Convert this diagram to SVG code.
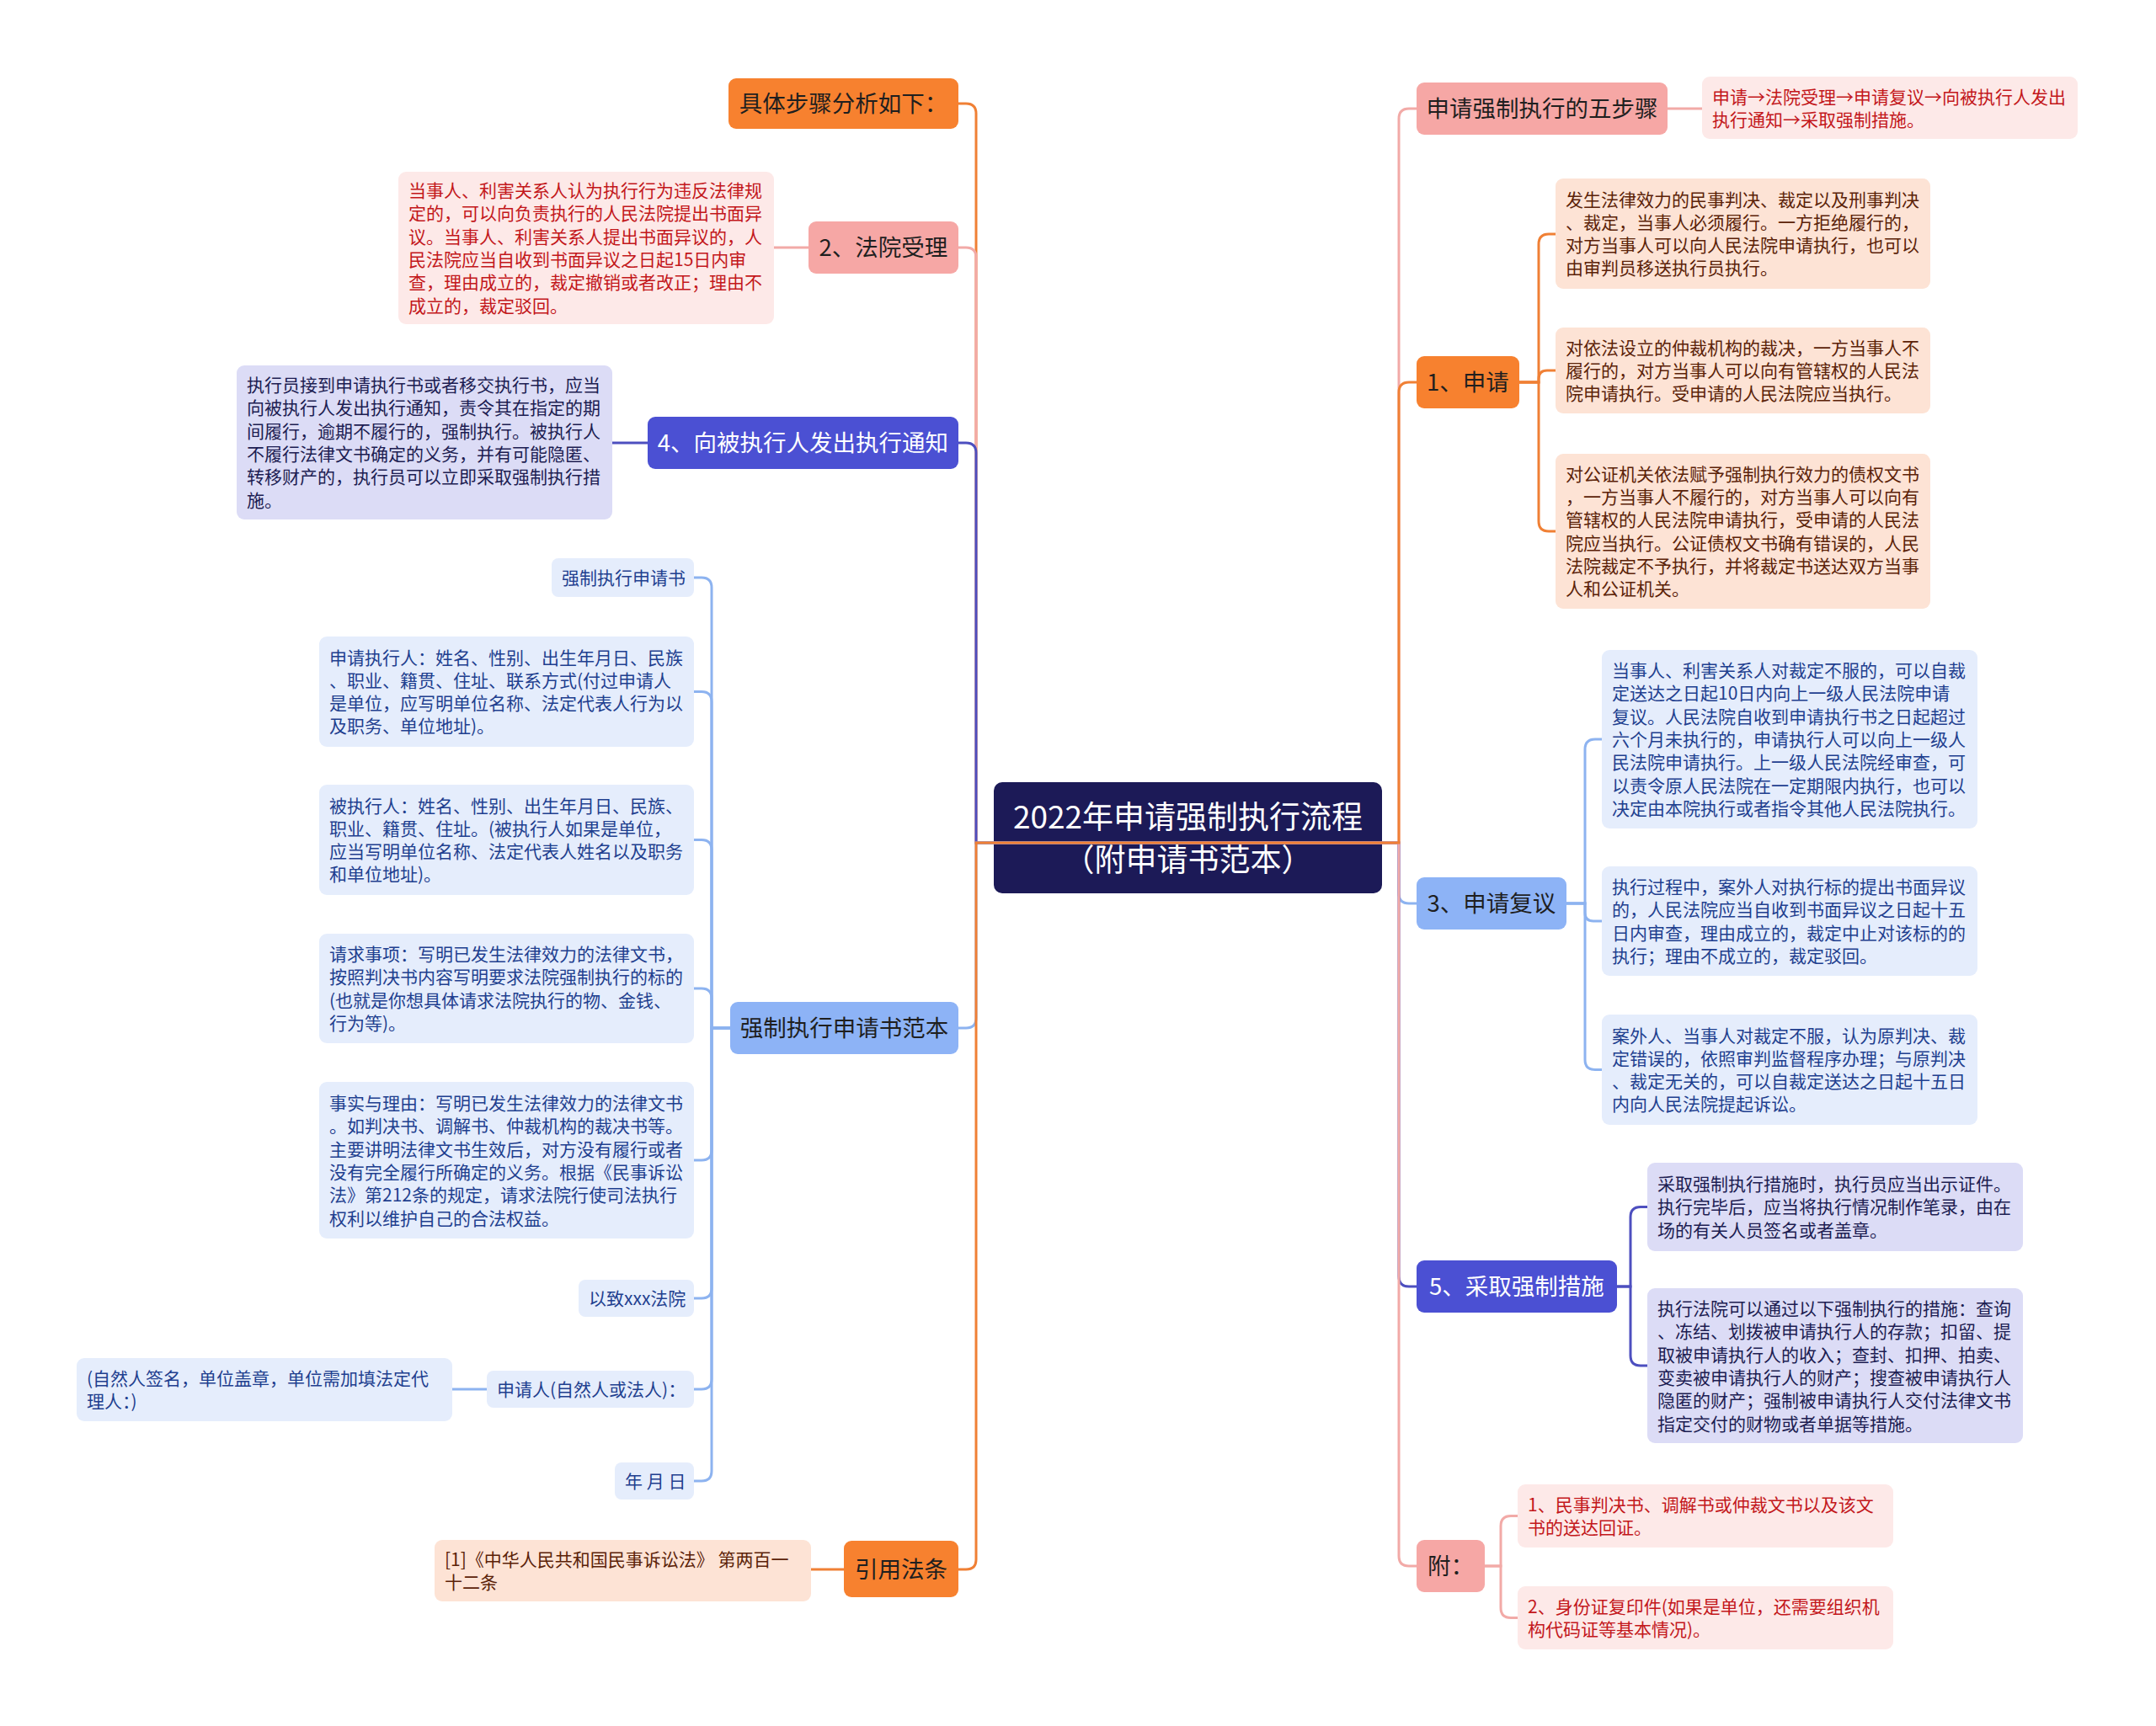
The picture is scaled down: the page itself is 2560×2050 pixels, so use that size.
<svg xmlns="http://www.w3.org/2000/svg" width="2560" height="2050" viewBox="0 0 2560 2050">
<style>
text{font-family:"Noto Sans CJK SC","Noto Sans",sans-serif}
.nt{font-size:27.5px;text-anchor:middle;fill:#1f1f1f}
.nw{font-size:27.5px;text-anchor:middle;fill:#ffffff}
.dt{font-size:21px}
.tr{fill:#c3171b}.tb{fill:#5b2208}.tl{fill:#1d1d52}.tu{fill:#1f3f8f}
.org{fill:#f7812f}.pnk{fill:#f6a7a5}.ind{fill:#4b50d3}.lbl{fill:#8db3f6}
.dpk{fill:#fde9e8}.dpe{fill:#fde3d5}.dla{fill:#dcdcf6}.dbl{fill:#e5edfc}
.c{fill:none;stroke-width:3}
.co{stroke:#f08035}.cp{stroke:#f2aaa7}.ci{stroke:#4d4fbf}.cb{stroke:#8db3f0}
</style>
<rect width="2560" height="2050" fill="#ffffff"/>

<g id="center">
<rect x="1180" y="929" width="461" height="132" rx="10" fill="#1c1a57"/>
<text x="1410.5" y="984" font-size="37" text-anchor="middle" fill="#ffffff">2022年申请强制执行流程</text>
<text x="1410.5" y="1035" font-size="37" text-anchor="middle" fill="#ffffff">（附申请书范本）</text>
</g>

<!-- left branches -->
<g id="n-steps"><rect class="org" x="865" y="93" width="273" height="60" rx="9"/><text class="nt" x="1001.5" y="133">具体步骤分析如下：</text></g>

<g id="n-court"><rect class="pnk" x="960" y="263" width="178" height="62" rx="9"/><text class="nt" x="1049" y="304">2、法院受理</text></g>
<g id="d-court"><rect class="dpk" x="473" y="204" width="446" height="181" rx="9"/>
<text class="dt tr" x="485" y="234">当事人、利害关系人认为执行行为违反法律规<tspan x="485" dy="27.3">定的，可以向负责执行的人民法院提出书面异</tspan><tspan x="485" dy="27.3">议。当事人、利害关系人提出书面异议的，人</tspan><tspan x="485" dy="27.3">民法院应当自收到书面异议之日起15日内审</tspan><tspan x="485" dy="27.3">查，理由成立的，裁定撤销或者改正；理由不</tspan><tspan x="485" dy="27.3">成立的，裁定驳回。</tspan></text></g>

<g id="n-notice"><rect class="ind" x="769" y="495" width="369" height="62" rx="9"/><text class="nw" x="953.5" y="536">4、向被执行人发出执行通知</text></g>
<g id="d-notice"><rect class="dla" x="281" y="434" width="446" height="183" rx="9"/>
<text class="dt tl" x="293" y="465">执行员接到申请执行书或者移交执行书，应当<tspan x="293" dy="27.3">向被执行人发出执行通知，责令其在指定的期</tspan><tspan x="293" dy="27.3">间履行，逾期不履行的，强制执行。被执行人</tspan><tspan x="293" dy="27.3">不履行法律文书确定的义务，并有可能隐匿、</tspan><tspan x="293" dy="27.3">转移财产的，执行员可以立即采取强制执行措</tspan><tspan x="293" dy="27.3">施。</tspan></text></g>

<g id="n-sample"><rect class="lbl" x="867" y="1190" width="271" height="62" rx="9"/><text class="nt" x="1002.5" y="1231">强制执行申请书范本</text></g>
<g id="s1"><rect class="dbl" x="655" y="663" width="169" height="46" rx="8"/><text class="dt tu" x="667" y="694">强制执行申请书</text></g>
<g id="s2"><rect class="dbl" x="379" y="756" width="445" height="131" rx="9"/>
<text class="dt tu" x="391" y="788.5">申请执行人：姓名、性别、出生年月日、民族<tspan x="391" dy="27.3">、职业、籍贯、住址、联系方式(付过申请人</tspan><tspan x="391" dy="27.3">是单位，应写明单位名称、法定代表人行为以</tspan><tspan x="391" dy="27.3">及职务、单位地址)。</tspan></text></g>
<g id="s3"><rect class="dbl" x="379" y="932" width="445" height="131" rx="9"/>
<text class="dt tu" x="391" y="964.5">被执行人：姓名、性别、出生年月日、民族、<tspan x="391" dy="27.3">职业、籍贯、住址。(被执行人如果是单位，</tspan><tspan x="391" dy="27.3">应当写明单位名称、法定代表人姓名以及职务</tspan><tspan x="391" dy="27.3">和单位地址)。</tspan></text></g>
<g id="s4"><rect class="dbl" x="379" y="1109" width="445" height="130" rx="9"/>
<text class="dt tu" x="391" y="1141">请求事项：写明已发生法律效力的法律文书，<tspan x="391" dy="27.3">按照判决书内容写明要求法院强制执行的标的</tspan><tspan x="391" dy="27.3">(也就是你想具体请求法院执行的物、金钱、</tspan><tspan x="391" dy="27.3">行为等)。</tspan></text></g>
<g id="s5"><rect class="dbl" x="379" y="1285" width="445" height="186" rx="9"/>
<text class="dt tu" x="391" y="1318">事实与理由：写明已发生法律效力的法律文书<tspan x="391" dy="27.3">。如判决书、调解书、仲裁机构的裁决书等。</tspan><tspan x="391" dy="27.3">主要讲明法律文书生效后，对方没有履行或者</tspan><tspan x="391" dy="27.3">没有完全履行所确定的义务。根据《民事诉讼</tspan><tspan x="391" dy="27.3">法》第212条的规定，请求法院行使司法执行</tspan><tspan x="391" dy="27.3">权利以维护自己的合法权益。</tspan></text></g>
<g id="s6"><rect class="dbl" x="687" y="1520" width="137" height="44" rx="8"/><text class="dt tu" x="699" y="1550">以致xxx法院</text></g>
<g id="s7"><rect class="dbl" x="578" y="1628" width="246" height="44" rx="8"/><text class="dt tu" x="590" y="1658">申请人(自然人或法人)：</text></g>
<g id="s7a"><rect class="dbl" x="91" y="1613" width="446" height="75" rx="9"/>
<text class="dt tu" x="103" y="1645">(自然人签名，单位盖章，单位需加填法定代<tspan x="103" dy="27.3">理人：)</tspan></text></g>
<g id="s8"><rect class="dbl" x="730" y="1737" width="94" height="44" rx="8"/><text class="dt tu" x="742" y="1767">年 月 日</text></g>

<g id="n-law"><rect class="org" x="1002" y="1830" width="136" height="67" rx="9"/><text class="nt" x="1070" y="1873.5">引用法条</text></g>
<g id="d-law"><rect class="dpe" x="516" y="1829" width="447" height="73" rx="9"/>
<text class="dt tb" x="528" y="1860">[1]《中华人民共和国民事诉讼法》 第两百一<tspan x="528" dy="27.3">十二条</tspan></text></g>

<!-- right branches -->
<g id="n-five"><rect class="pnk" x="1682" y="98" width="298" height="62" rx="9"/><text class="nt" x="1831" y="139">申请强制执行的五步骤</text></g>
<g id="d-five"><rect class="dpk" x="2021" y="91" width="446" height="74" rx="9"/>
<text class="dt tr" x="2033" y="122.5">申请→法院受理→申请复议→向被执行人发出<tspan x="2033" dy="27.3">执行通知→采取强制措施。</tspan></text></g>

<g id="n-apply"><rect class="org" x="1682" y="423" width="122" height="62" rx="9"/><text class="nt" x="1743" y="464">1、申请</text></g>
<g id="d-a"><rect class="dpe" x="1847" y="212" width="445" height="131" rx="9"/>
<text class="dt tb" x="1859" y="244.5">发生法律效力的民事判决、裁定以及刑事判决<tspan x="1859" dy="27.3">、裁定，当事人必须履行。一方拒绝履行的，</tspan><tspan x="1859" dy="27.3">对方当事人可以向人民法院申请执行，也可以</tspan><tspan x="1859" dy="27.3">由审判员移送执行员执行。</tspan></text></g>
<g id="d-b"><rect class="dpe" x="1847" y="389" width="445" height="102" rx="9"/>
<text class="dt tb" x="1859" y="420.7">对依法设立的仲裁机构的裁决，一方当事人不<tspan x="1859" dy="27.3">履行的，对方当事人可以向有管辖权的人民法</tspan><tspan x="1859" dy="27.3">院申请执行。受申请的人民法院应当执行。</tspan></text></g>
<g id="d-c"><rect class="dpe" x="1847" y="539" width="445" height="184" rx="9"/>
<text class="dt tb" x="1859" y="570.75">对公证机关依法赋予强制执行效力的债权文书<tspan x="1859" dy="27.3">，一方当事人不履行的，对方当事人可以向有</tspan><tspan x="1859" dy="27.3">管辖权的人民法院申请执行，受申请的人民法</tspan><tspan x="1859" dy="27.3">院应当执行。公证债权文书确有错误的，人民</tspan><tspan x="1859" dy="27.3">法院裁定不予执行，并将裁定书送达双方当事</tspan><tspan x="1859" dy="27.3">人和公证机关。</tspan></text></g>

<g id="n-review"><rect class="lbl" x="1682" y="1042" width="178" height="62" rx="9"/><text class="nt" x="1771" y="1083">3、申请复议</text></g>
<g id="d-d"><rect class="dbl" x="1902" y="772" width="446" height="212" rx="9"/>
<text class="dt tu" x="1914" y="804">当事人、利害关系人对裁定不服的，可以自裁<tspan x="1914" dy="27.3">定送达之日起10日内向上一级人民法院申请</tspan><tspan x="1914" dy="27.3">复议。人民法院自收到申请执行书之日起超过</tspan><tspan x="1914" dy="27.3">六个月未执行的，申请执行人可以向上一级人</tspan><tspan x="1914" dy="27.3">民法院申请执行。上一级人民法院经审查，可</tspan><tspan x="1914" dy="27.3">以责令原人民法院在一定期限内执行，也可以</tspan><tspan x="1914" dy="27.3">决定由本院执行或者指令其他人民法院执行。</tspan></text></g>
<g id="d-e"><rect class="dbl" x="1902" y="1029" width="446" height="130" rx="9"/>
<text class="dt tu" x="1914" y="1061">执行过程中，案外人对执行标的提出书面异议<tspan x="1914" dy="27.3">的，人民法院应当自收到书面异议之日起十五</tspan><tspan x="1914" dy="27.3">日内审查，理由成立的，裁定中止对该标的的</tspan><tspan x="1914" dy="27.3">执行；理由不成立的，裁定驳回。</tspan></text></g>
<g id="d-f"><rect class="dbl" x="1902" y="1205" width="446" height="131" rx="9"/>
<text class="dt tu" x="1914" y="1237.5">案外人、当事人对裁定不服，认为原判决、裁<tspan x="1914" dy="27.3">定错误的，依照审判监督程序办理；与原判决</tspan><tspan x="1914" dy="27.3">、裁定无关的，可以自裁定送达之日起十五日</tspan><tspan x="1914" dy="27.3">内向人民法院提起诉讼。</tspan></text></g>

<g id="n-measure"><rect class="ind" x="1682" y="1497" width="238" height="62" rx="9"/><text class="nw" x="1801" y="1538">5、采取强制措施</text></g>
<g id="d-g"><rect class="dla" x="1956" y="1381" width="446" height="105" rx="9"/>
<text class="dt tl" x="1968" y="1414">采取强制执行措施时，执行员应当出示证件。<tspan x="1968" dy="27.3">执行完毕后，应当将执行情况制作笔录，由在</tspan><tspan x="1968" dy="27.3">场的有关人员签名或者盖章。</tspan></text></g>
<g id="d-h"><rect class="dla" x="1956" y="1530" width="446" height="184" rx="9"/>
<text class="dt tl" x="1968" y="1562">执行法院可以通过以下强制执行的措施：查询<tspan x="1968" dy="27.3">、冻结、划拨被申请执行人的存款；扣留、提</tspan><tspan x="1968" dy="27.3">取被申请执行人的收入；查封、扣押、拍卖、</tspan><tspan x="1968" dy="27.3">变卖被申请执行人的财产；搜查被申请执行人</tspan><tspan x="1968" dy="27.3">隐匿的财产；强制被申请执行人交付法律文书</tspan><tspan x="1968" dy="27.3">指定交付的财物或者单据等措施。</tspan></text></g>

<g id="n-attach"><rect class="pnk" x="1682" y="1829" width="81" height="62" rx="9"/><text class="nt" x="1722.5" y="1870">附：</text></g>
<g id="d-i"><rect class="dpk" x="1802" y="1763" width="446" height="75" rx="9"/>
<text class="dt tr" x="1814" y="1795">1、民事判决书、调解书或仲裁文书以及该文<tspan x="1814" dy="27.3">书的送达回证。</tspan></text></g>
<g id="d-j"><rect class="dpk" x="1802" y="1884" width="446" height="75" rx="9"/>
<text class="dt tr" x="1814" y="1916">2、身份证复印件(如果是单位，还需要组织机<tspan x="1814" dy="27.3">构代码证等基本情况)。</tspan></text></g>

<g id="connectors">
<path class="c co" d="M1410,1001 H1159 V135 Q1159,123 1147,123 H1138"/>
<path class="c cp" d="M1410,1001 H1159 V306 Q1159,294 1147,294 H1138"/>
<path class="c ci" d="M1410,1001 H1159 V538 Q1159,526 1147,526 H1138"/>
<path class="c cb" d="M1410,1001 H1159 V1209 Q1159,1221 1147,1221 H1138"/>
<path class="c co" d="M1410,1001 H1159 V1852 Q1159,1864 1147,1864 H1138"/>

<path class="c cp" d="M1410,1001 H1661 V141 Q1661,129 1673,129 H1682"/>
<path class="c cb" d="M1410,1001 H1661 V1061 Q1661,1073 1673,1073 H1682"/>
<path class="c ci" d="M1410,1001 H1661 V1516 Q1661,1528 1673,1528 H1682"/>
<path class="c cp" d="M1410,1001 H1661 V1848 Q1661,1860 1673,1860 H1682"/>
<path class="c co" d="M1410,1001 H1661 V466 Q1661,454 1673,454 H1682"/>

<path class="c cp" d="M960,294 H919"/>
<path class="c ci" d="M769,526 H727"/>
<path class="c co" d="M1002,1864 H963"/>
<path class="c cp" d="M1980,129 H2021"/>
<path class="c cb" d="M578,1650 H537"/>

<path class="c cb" d="M867,1221 H845 V698 Q845,686 833,686 H824"/>
<path class="c cb" d="M867,1221 H845 V833.5 Q845,821.5 833,821.5 H824"/>
<path class="c cb" d="M867,1221 H845 V1009.5 Q845,997.5 833,997.5 H824"/>
<path class="c cb" d="M867,1221 H845 V1186 Q845,1174 833,1174 H824"/>
<path class="c cb" d="M867,1221 H845 V1366 Q845,1378 833,1378 H824"/>
<path class="c cb" d="M867,1221 H845 V1530 Q845,1542 833,1542 H824"/>
<path class="c cb" d="M867,1221 H845 V1638 Q845,1650 833,1650 H824"/>
<path class="c cb" d="M867,1221 H845 V1747 Q845,1759 833,1759 H824"/>

<path class="c co" d="M1804,454 H1827 V290 Q1827,278 1839,278 H1847"/>
<path class="c co" d="M1804,454 H1827 V450 Q1827,440 1837,440 H1847"/>
<path class="c co" d="M1804,454 H1827 V619 Q1827,631 1839,631 H1847"/>

<path class="c cb" d="M1860,1073 H1882 V890 Q1882,878 1894,878 H1902"/>
<path class="c cb" d="M1860,1073 H1882 V1084 Q1882,1094 1892,1094 H1902"/>
<path class="c cb" d="M1860,1073 H1882 V1258.5 Q1882,1270.5 1894,1270.5 H1902"/>

<path class="c ci" d="M1920,1528 H1936 V1445.5 Q1936,1433.5 1948,1433.5 H1956"/>
<path class="c ci" d="M1920,1528 H1936 V1610 Q1936,1622 1948,1622 H1956"/>

<path class="c cp" d="M1763,1860 H1782 V1812.5 Q1782,1800.5 1794,1800.5 H1802"/>
<path class="c cp" d="M1763,1860 H1782 V1909.5 Q1782,1921.5 1794,1921.5 H1802"/>
</g>
</svg>
